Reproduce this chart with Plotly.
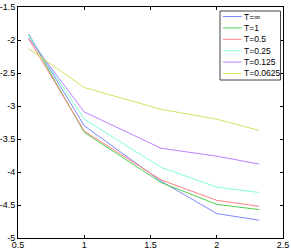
import plotly.graph_objects as go

x_vals = [0.58, 1.0, 1.58, 2.0, 2.32]
series_names = ["T=∞", "T=1", "T=0.5", "T=0.25", "T=0.125", "T=0.0625"]
y_inf = [-1.91, -3.30, -4.14, -4.63, -4.73]
y_1 = [-1.92, -3.40, -4.16, -4.49, -4.57]
y_05 = [-1.98, -3.38, -4.12, -4.43, -4.52]
y_025 = [-1.93, -3.20, -3.93, -4.23, -4.31]
y_0125 = [-1.97, -3.09, -3.64, -3.76, -3.88]
y_00625 = [-2.13, -2.72, -3.05, -3.20, -3.37]
colors = ["#7f86ff", "#4fcf4f", "#ff7f7f", "#80ffd0", "#c07fff", "#d8e060"]

x_ticks = [0.5, 1, 1.5, 2, 2.5]
x_ticktext = ["0.5", "1", "1.5", "2", "2.5"]
y_ticks = [-5, -4.5, -4, -3.5, -3, -2.5, -2, -1.5]
y_ticktext = ["-5", "-4.5", "-4", "-3.5", "-3", "-2.5", "-2", "-1.5"]

W, H = 291, 249
ML, MR, MT, MB = 18, 8, 7, 11
PW, PH = W - ML - MR, H - MT - MB

def px(xp):
    return (xp - ML) / PW

def py(yp):
    return (H - MB - yp) / PH

fig = go.Figure()
for name, ys, c in zip(series_names, [y_inf, y_1, y_05, y_025, y_0125, y_00625], colors):
    fig.add_trace(go.Scatter(x=x_vals, y=ys, mode="lines", name=name,
                             line=dict(color=c, width=1), showlegend=False,
                             hoverinfo="skip"))

font = dict(family="Liberation Sans, Arial", size=9, color="black")
axis_common = dict(showline=True, linecolor="black", linewidth=1, mirror="ticks",
                   ticks="inside", ticklen=3, tickcolor="black", showgrid=False,
                   zeroline=False, automargin=False, tickfont=font)
fig.update_xaxes(range=[0.5, 2.5], tickvals=x_ticks, ticktext=x_ticktext,
                 ticklabelstandoff=-2, **axis_common)
fig.update_yaxes(range=[-5, -1.5], tickvals=y_ticks, ticktext=y_ticktext, **axis_common)

# Manual legend (compact, MATLAB-style)
shapes = [dict(type="rect", xref="paper", yref="paper",
               x0=px(220), x1=px(280.5), y0=py(80), y1=py(11),
               line=dict(color="#444444", width=1), fillcolor="white", layer="above")]
annotations = []
row0, step = 16.5, 11.4
for i, (name, c) in enumerate(zip(series_names, colors)):
    yy = row0 + i * step
    shapes.append(dict(type="line", xref="paper", yref="paper",
                       x0=px(223), x1=px(241.5), y0=py(yy), y1=py(yy),
                       line=dict(color=c, width=1), layer="above"))
    annotations.append(dict(xref="paper", yref="paper", x=px(242), y=py(yy),
                            text=name, showarrow=False, xanchor="left", yanchor="middle",
                            font=dict(family="Liberation Sans, Arial", size=8.5, color="black")))

fig.update_layout(
    width=W, height=H,
    margin=dict(l=ML, r=MR, t=MT, b=MB, pad=0),
    paper_bgcolor="white", plot_bgcolor="white",
    shapes=shapes, annotations=annotations,
    hovermode=False,
)
fig.write_html("out.html", config={"displayModeBar": False, "staticPlot": True},
               post_script="document.body.style.margin='0';document.body.style.padding='0';")
